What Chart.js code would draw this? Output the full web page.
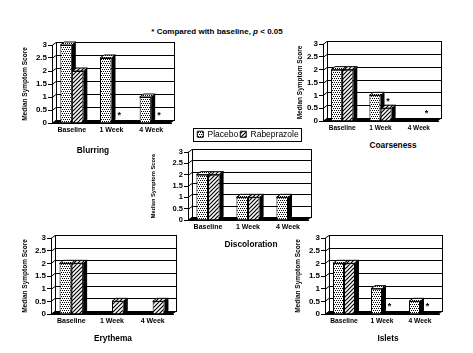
<!DOCTYPE html>
<html>
<head>
<meta charset="utf-8">
<script src="https://cdn.jsdelivr.net/npm/chart.js@4.4.1/dist/chart.umd.min.js"></script>
<style>
  html, body { margin: 0; padding: 0; background: #fff; }
  body { width: 473px; height: 353px; position: relative; overflow: hidden;
         font-family: "Liberation Sans", Arial, sans-serif; color: #000; }
  .panel { position: absolute; }
  .ttl { position: absolute; font-weight: bold; font-size: 8.3px; line-height: 1;
         transform: translateX(-50%); white-space: nowrap; }
  #note { position: absolute; left: 217px; top: 28px; font-weight: bold; font-size: 8px;
          line-height: 1; transform: translateX(-50%); white-space: nowrap; }
</style>
</head>
<body>
<div id="note">* Compared with baseline, <i>p</i> &lt; 0.05</div>
<div class="panel" id="w1"><canvas id="c1"></canvas></div>
<div class="panel" id="w2"><canvas id="c2"></canvas></div>
<div class="panel" id="w3"><canvas id="c3"></canvas></div>
<div class="panel" id="w4"><canvas id="c4"></canvas></div>
<div class="panel" id="w5"><canvas id="c5"></canvas></div>
<div class="ttl" style="left:93px;top:146px">Blurring</div>
<div class="ttl" style="left:393px;top:141px">Coarseness</div>
<div class="ttl" style="left:251px;top:240px">Discoloration</div>
<div class="ttl" style="left:113px;top:334px">Erythema</div>
<div class="ttl" style="left:388px;top:334px">Islets</div>
<script>
/* global Chart */
( function () {
    'use strict';

    /* ── Дані ── */
    var weeks       = [ 'Baseline', '1 Week', '4 Week' ];
    var seriesNames = [ 'Placebo', 'Rabeprazole' ];
    var yTitle      = 'Median Symptom Score';
    var yMax        = 3;
    var yStep       = 0.5;

    var blurPlacebo   = [ 3, 2.5, 1 ];
    var blurRabe      = [ 2, 0, 0 ];
    var blurStars     = [ [ 0, 0, 0 ], [ 0, 1, 1 ] ];

    var coarsePlacebo = [ 2, 1, 0 ];
    var coarseRabe    = [ 2, 0.5, 0 ];
    var coarseStars   = [ [ 0, 0, 0 ], [ 0, 1, 1 ] ];

    var discPlacebo   = [ 2, 1, 1 ];
    var discRabe      = [ 2, 1, 0 ];
    var discStars     = [ [ 0, 0, 0 ], [ 0, 0, 0 ] ];

    var erythPlacebo  = [ 2, 0, 0 ];
    var erythRabe     = [ 2, 0.5, 0.5 ];
    var erythStars    = [ [ 0, 0, 0 ], [ 0, 0, 0 ] ];

    var isletPlacebo  = [ 2, 1, 0.5 ];
    var isletRabe     = [ 2, 0, 0 ];
    var isletStars    = [ [ 0, 0, 0 ], [ 0, 1, 1 ] ];

    /* ── Глибина 3D ── */
    var D  = 4;
    var DY = 3;

    Chart.defaults.font.family = '"Liberation Sans", Arial, sans-serif';
    Chart.defaults.color = '#000';

    /* ── Візерунки ── */
    function dotPattern() {
        var c = document.createElement( 'canvas' );
        c.width = 4; c.height = 4;
        var g = c.getContext( '2d' );
        g.fillStyle = '#fff'; g.fillRect( 0, 0, 4, 4 );
        g.fillStyle = '#000';
        g.fillRect( 0, 0, 1, 1 ); g.fillRect( 2, 0, 1, 1 );
        g.fillRect( 1, 2, 1, 1 ); g.fillRect( 3, 2, 1, 1 );
        return g.createPattern( c, 'repeat' );
    }

    function hatchPattern() {
        var c = document.createElement( 'canvas' );
        c.width = 4; c.height = 4;
        var g = c.getContext( '2d' );
        g.fillStyle = '#fff'; g.fillRect( 0, 0, 4, 4 );
        g.strokeStyle = '#000'; g.lineWidth = 1.2;
        g.beginPath();
        g.moveTo( -1, 5 ); g.lineTo( 5, -1 );
        g.moveTo( 3, 5 );  g.lineTo( 5, 3 );
        g.moveTo( -1, 1 ); g.lineTo( 1, -1 );
        g.stroke();
        return g.createPattern( c, 'repeat' );
    }

    var dots  = dotPattern();
    var hatch = hatchPattern();

    /* ── Плагін: стінки, підлога, бокові грані, зірочки ── */
    var threeD = {
        id: 'threeD',
        beforeDatasetsDraw: function ( chart ) {
            var ctx = chart.ctx, a = chart.chartArea, ys = chart.scales.y;
            ctx.save();
            ctx.strokeStyle = '#000';
            ctx.lineWidth = 1;
            ctx.beginPath();
            ys.ticks.forEach( function ( t ) {
                var y = Math.round( ys.getPixelForValue( t.value ) ) + 0.5;
                ctx.moveTo( a.left, y );
                ctx.lineTo( a.left + D, y - DY );
                ctx.lineTo( a.right + D, y - DY );
            } );
            ctx.moveTo( a.left + D + 0.5, a.bottom - DY );
            ctx.lineTo( a.left + D + 0.5, a.top - DY );
            ctx.moveTo( a.right + D - 0.5, a.bottom - DY );
            ctx.lineTo( a.right + D - 0.5, a.top - DY );
            ctx.stroke();

            ctx.fillStyle = '#000';
            ctx.beginPath();
            ctx.moveTo( a.left, a.bottom );
            ctx.lineTo( a.left + D, a.bottom - DY );
            ctx.lineTo( a.right + D, a.bottom - DY );
            ctx.lineTo( a.right, a.bottom );
            ctx.closePath();
            ctx.fill();

            chart.data.datasets.forEach( function ( ds, i ) {
                chart.getDatasetMeta( i ).data.forEach( function ( bar, j ) {
                    if ( ! ds.data[ j ] ) return;
                    var p = bar.getProps( [ 'x', 'y', 'base', 'width' ], true );
                    var L = p.x - p.width / 2, R = p.x + p.width / 2;
                    ctx.fillStyle = '#000';
                    ctx.beginPath();
                    ctx.moveTo( R, p.y );
                    ctx.lineTo( R + D, p.y - DY );
                    ctx.lineTo( R + D, p.base - DY );
                    ctx.lineTo( R, p.base );
                    ctx.closePath();
                    ctx.fill();
                    ctx.fillStyle = ds.backgroundColor;
                    ctx.beginPath();
                    ctx.moveTo( L, p.y );
                    ctx.lineTo( L + D, p.y - DY );
                    ctx.lineTo( R + D, p.y - DY );
                    ctx.lineTo( R, p.y );
                    ctx.closePath();
                    ctx.fill();
                    ctx.stroke();
                } );
            } );
            ctx.restore();
        },
        afterDatasetsDraw: function ( chart, args, opts ) {
            var stars = opts.stars || [];
            var ctx = chart.ctx;
            ctx.save();
            ctx.fillStyle = '#000';
            ctx.font = 'bold 9px "Liberation Sans", Arial, sans-serif';
            ctx.textAlign = 'center';
            ctx.textBaseline = 'middle';
            stars.forEach( function ( row, i ) {
                chart.getDatasetMeta( i ).data.forEach( function ( bar, j ) {
                    if ( ! row[ j ] ) return;
                    var p = bar.getProps( [ 'x', 'y' ], true );
                    ctx.fillText( '*', p.x + D / 2, p.y - DY - 4 );
                } );
            } );
            ctx.restore();
        },
        afterDraw: function ( chart ) {
            var lg = chart.legend;
            if ( ! lg || ! lg.options.display || ! lg.legendHitBoxes.length ) return;
            var hb = lg.legendHitBoxes;
            var l = hb[ 0 ].left, r = hb[ hb.length - 1 ].left + hb[ hb.length - 1 ].width;
            var t = hb[ 0 ].top, h = hb[ 0 ].height;
            var ctx = chart.ctx;
            ctx.save();
            ctx.strokeStyle = '#000';
            ctx.lineWidth = 1;
            ctx.strokeRect( Math.round( l - 4 ) + 0.5, Math.round( t - 2 ) + 0.5,
                            Math.round( r - l + 7 ), Math.round( h + 4 ) );
            ctx.restore();
        }
    };

    /* ── Панелі ── */
    var panels = [
        { id: 'c1', yt: 25,  l: 52,  t: 45,  r: 171, b: 123, xf: 7,   yf: 8, tf: 6.5, p: blurPlacebo,   q: blurRabe,   s: blurStars },
        { id: 'c2', yt: 300, l: 323, t: 44,  r: 438, b: 121, xf: 6.5, yf: 8, tf: 6.5, p: coarsePlacebo, q: coarseRabe, s: coarseStars },
        { id: 'c3', yt: 154, l: 188, t: 152, r: 308, b: 220, xf: 7,   yf: 7.5, tf: 5.7, p: discPlacebo, q: discRabe,   s: discStars, legend: true },
        { id: 'c4', yt: 25,  l: 51,  t: 238, r: 173, b: 314, xf: 7,   yf: 8, tf: 6.5, p: erythPlacebo,  q: erythRabe,  s: erythStars },
        { id: 'c5', yt: 298, l: 325, t: 238, r: 439, b: 314, xf: 6.7, yf: 8, tf: 6.5, p: isletPlacebo,  q: isletRabe,  s: isletStars }
    ];

    function buildPanel( cfg ) {
        var canvas = document.getElementById( cfg.id );
        var wrap   = canvas.parentNode;
        var left   = cfg.yt - 4;
        var top    = cfg.legend ? 128 : cfg.t - 6;
        var right  = cfg.r + 8;
        var bottom = cfg.b + 14;
        wrap.style.left   = left + 'px';
        wrap.style.top    = top + 'px';
        wrap.style.width  = ( right - left ) + 'px';
        wrap.style.height = ( bottom - top ) + 'px';
        var yW = cfg.l - left;

        new Chart( canvas, {
            type: 'bar',
            data: {
                labels: weeks,
                datasets: [ {
                    label:           seriesNames[ 0 ],
                    data:            cfg.p,
                    backgroundColor: dots,
                    borderColor:     '#000',
                    borderWidth:     1,
                    categoryPercentage: 0.58,
                    barPercentage:   1
                }, {
                    label:           seriesNames[ 1 ],
                    data:            cfg.q,
                    backgroundColor: hatch,
                    borderColor:     '#000',
                    borderWidth:     1,
                    categoryPercentage: 0.58,
                    barPercentage:   1
                } ]
            },
            options: {
                responsive:          true,
                maintainAspectRatio: false,
                animation:           false,
                devicePixelRatio:    1,
                layout: { padding: { top: cfg.legend ? 0 : 6, right: 8, bottom: 0, left: 0 } },
                plugins: {
                    legend: {
                        display:  !! cfg.legend,
                        position: 'top',
                        fullSize: false,
                        weight:   3000,
                        labels: {
                            boxWidth:  6,
                            boxHeight: 6,
                            padding:   2,
                            color:     '#000',
                            font:      { size: 8.5 }
                        }
                    },
                    subtitle: {
                        display: !! cfg.legend,
                        text:    '',
                        padding: 0,
                        font:    { size: 3.5, lineHeight: 1 }
                    },
                    tooltip: { enabled: false },
                    threeD:  { stars: cfg.s }
                },
                scales: {
                    x: {
                        grid:   { display: false, drawTicks: false },
                        border: { display: true, color: '#000' },
                        ticks:  { padding: 3, color: '#000', font: { size: cfg.xf, weight: 'bold' } },
                        afterFit: function ( s ) { s.height = 14; }
                    },
                    y: {
                        min: 0,
                        max: yMax,
                        grid:   { display: true, drawOnChartArea: false, drawTicks: true, tickLength: 4, color: '#000' },
                        border: { display: true, color: '#000' },
                        ticks:  {
                            stepSize: yStep, autoSkip: false, padding: 1, color: '#000',
                            font: { size: cfg.yf, weight: 'bold' },
                            callback: function ( v ) { return String( v ); }
                        },
                        title:  { display: true, text: yTitle, padding: 0, color: '#000',
                                  font: { size: cfg.tf, weight: 'bold' } },
                        afterFit: function ( s ) { s.width = yW; }
                    }
                }
            },
            plugins: [ threeD ]
        } );
    }

    panels.forEach( buildPanel );
}() );
</script>
</body>
</html>
